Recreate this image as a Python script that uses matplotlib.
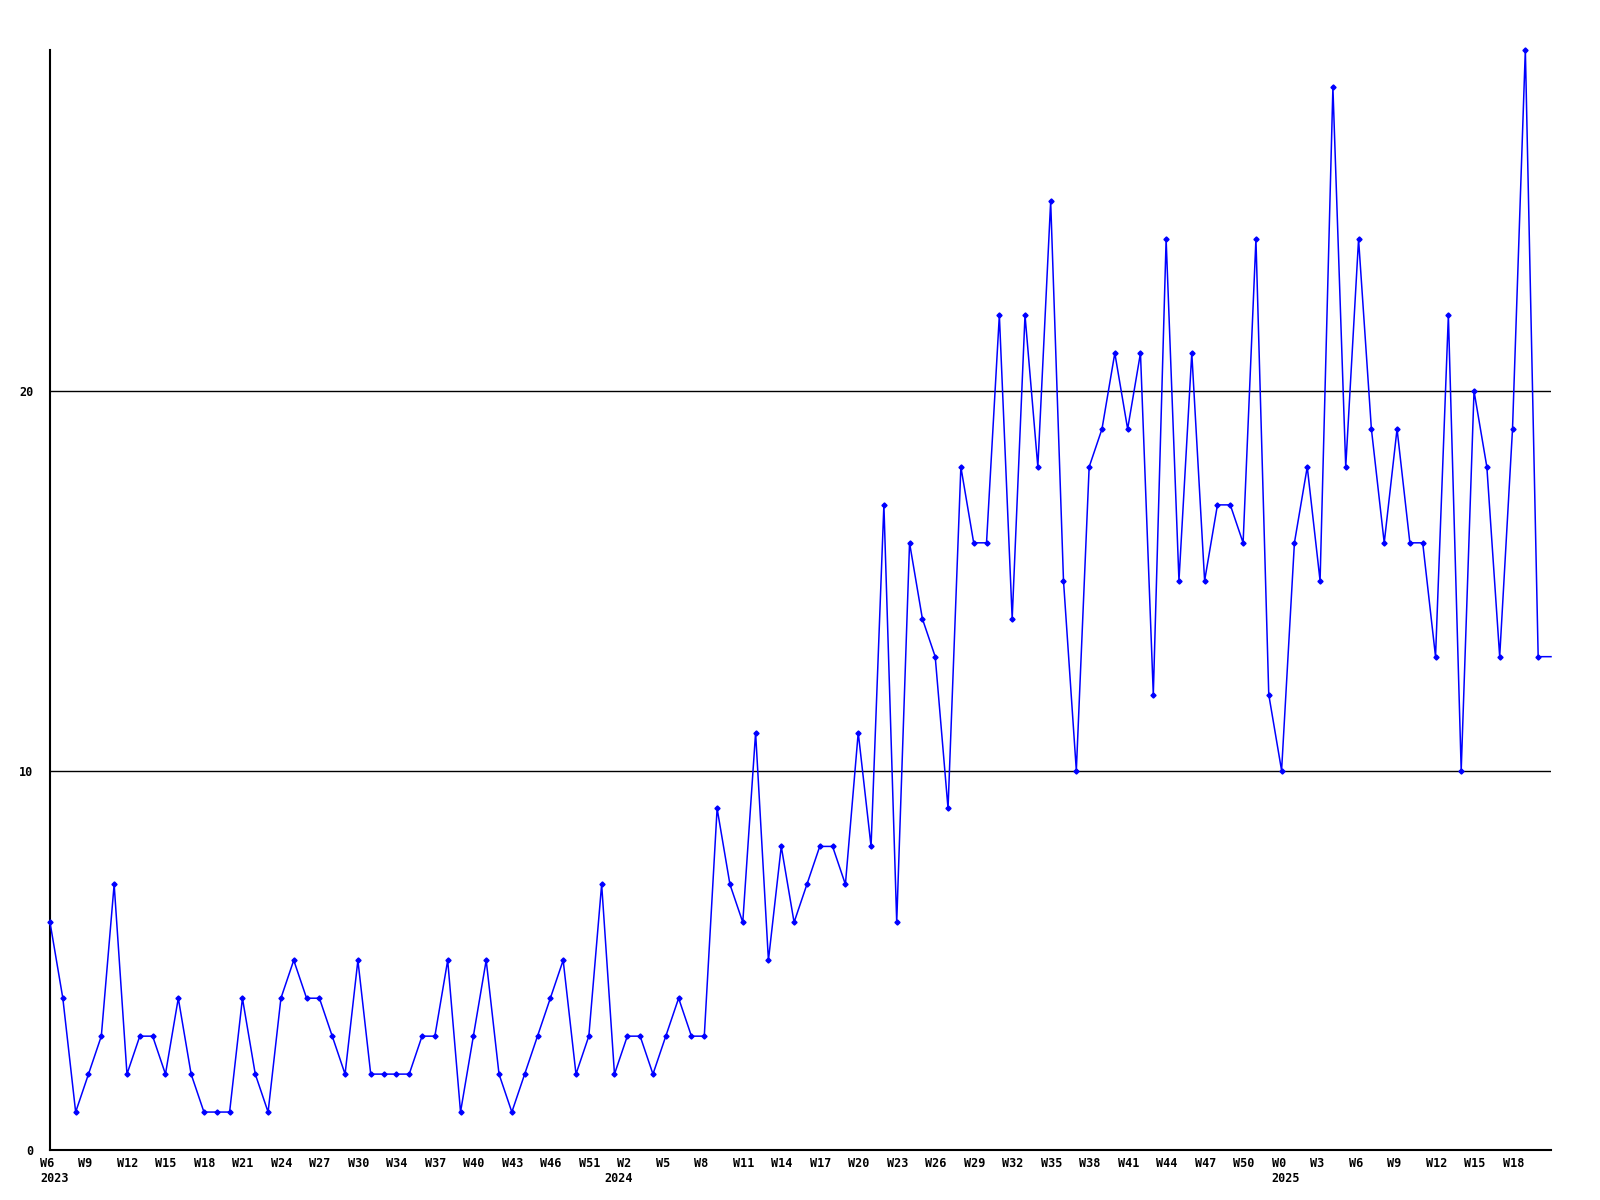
import matplotlib
matplotlib.use('Agg')
import matplotlib.pyplot as plt
import matplotlib.transforms as mtransforms

# weekly counts, W6 2023 .. W20 2025 (last value is the open week at the edge)
values = [
    6, 4, 1, 2, 3, 7, 2, 3, 3, 2, 4, 2, 1, 1, 1, 4, 2, 1, 4, 5,
    4, 4, 3, 2, 5, 2, 2, 2, 2, 3, 3, 5, 1, 3, 5, 2, 1, 2, 3, 4,
    5, 2, 3, 7, 2, 3, 3, 2, 3, 4, 3, 3, 9, 7, 6, 11, 5, 8, 6, 7,
    8, 8, 7, 11, 8, 17, 6, 16, 14, 13, 9, 18, 16, 16, 22, 14, 22, 18, 25, 15,
    10, 18, 19, 21, 19, 21, 12, 24, 15, 21, 15, 17, 17, 16, 24, 12, 10, 16, 18, 15,
    28, 18, 24, 19, 16, 19, 16, 16, 13, 22, 10, 20, 18, 13, 19, 29, 13, 13,
]
week_labels = [
    'W6', 'W9', 'W12', 'W15', 'W18', 'W21', 'W24', 'W27', 'W30', 'W34',
    'W37', 'W40', 'W43', 'W46', 'W51', 'W2', 'W5', 'W8', 'W11', 'W14',
    'W17', 'W20', 'W23', 'W26', 'W29', 'W32', 'W35', 'W38', 'W41', 'W44',
    'W47', 'W50', 'W0', 'W3', 'W6', 'W9', 'W12', 'W15', 'W18',
]
year_labels = ['2023', '2024', '2025']
year_index = [0, 44, 96]
y_labels = ['0', '10', '20']
y_ticks = [0, 10, 20]

font = {'family': 'DejaVu Sans Mono', 'weight': 'bold', 'size': 8.5}

fig = plt.figure(figsize=(16, 12), dpi=100)
ax = fig.add_axes([50 / 1600, 50 / 1200, 1501 / 1600, 1100.5 / 1200])

x = list(range(len(values)))
ax.plot(x, values, color='#0000ff', linewidth=1.1, marker='D', markersize=2.6,
        markevery=list(range(len(values) - 1)), clip_on=False, zorder=3)

for yv in y_ticks[1:]:
    ax.axhline(yv, color='black', linewidth=1.0, zorder=1)

ax.set_xlim(0, len(values) - 1)
ax.set_ylim(0, max(values))

for side in ['top', 'right']:
    ax.spines[side].set_visible(False)
for side in ['left', 'bottom']:
    ax.spines[side].set_linewidth(1.5)

ax.set_yticks(y_ticks)
ax.set_yticklabels(y_labels, fontdict=font)
ax.tick_params(axis='y', length=0, pad=12)

# week labels every 3 points, left-aligned a little before the point
ax.set_xticks(list(range(0, 3 * len(week_labels), 3)))
ax.set_xticklabels(week_labels, fontdict=font, ha='left')
ax.tick_params(axis='x', length=0, pad=5)

shift = mtransforms.ScaledTranslation(-10 / 100, 0, fig.dpi_scale_trans)
for lbl in ax.get_xticklabels():
    lbl.set_transform(lbl.get_transform() + shift)

# year labels under the first week of each year
year_trans = mtransforms.blended_transform_factory(ax.transData, ax.transAxes)
year_trans = year_trans + mtransforms.ScaledTranslation(-10 / 100, -22 / 100, fig.dpi_scale_trans)
for xi, yl in zip(year_index, year_labels):
    ax.text(xi, 0, yl, transform=year_trans, ha='left', va='top', fontdict=font)

fig.savefig('out.png', dpi=100, facecolor='white')
